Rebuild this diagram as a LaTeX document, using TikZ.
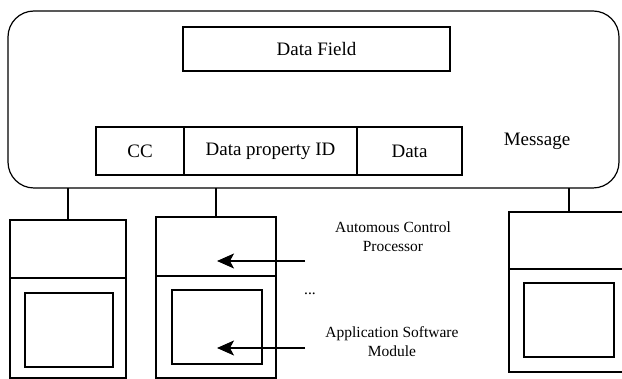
\documentclass[tikz,border=0pt]{standalone}
\usepackage{fontspec}
\setmainfont{Liberation Serif}
\usetikzlibrary{arrows.meta}
\begin{document}
\begin{tikzpicture}[x=1pt,y=-1pt,
  frame/.style={draw, line width=1.2pt, inner sep=0pt, outer sep=0pt},
  bigfont/.style={font=\fontsize{19}{22}\selectfont},
  smallfont/.style={font=\fontsize{15.5}{19}\selectfont, align=center},
  link/.style={line width=1.2pt},
  pointer/.style={line width=1.2pt, -{Stealth[length=17pt,width=15pt,inset=4pt]}}
]
\useasboundingbox (0,0) rectangle (622,379);

% message frame and its fields
\node[frame, rounded corners=26pt, minimum width=611pt, minimum height=177pt] (msg) at (313.5,99.5) {};
\node[frame, bigfont, minimum width=267pt, minimum height=44pt] (df) at (316.5,49) {Data Field};
\node[frame, bigfont, minimum width=88pt, minimum height=48pt] (cc) at (140,151) {CC};
\node[frame, bigfont, minimum width=173pt, minimum height=48pt] (dpid) at (270.5,151) {Data property ID};
\node[frame, bigfont, minimum width=105pt, minimum height=48pt] (data) at (409.5,151) {Data};
\node[bigfont] (msglabel) at (537,141) {Message};

% first node
\node[frame, minimum width=116pt, minimum height=58pt] (p1) at (68,249) {};
\node[frame, minimum width=116pt, minimum height=100pt] (m1) at (68,328) {};
\node[frame, minimum width=88pt, minimum height=74pt] (s1) at (69,330) {};

% second node
\node[frame, minimum width=120pt, minimum height=59pt] (p2) at (216,246.5) {};
\node[frame, minimum width=120pt, minimum height=102pt] (m2) at (216,327) {};
\node[frame, minimum width=90pt, minimum height=74pt] (s2) at (217,327) {};

% last node
\node[frame, minimum width=120pt, minimum height=57pt] (p3) at (569,240.5) {};
\node[frame, minimum width=120pt, minimum height=103pt] (m3) at (569,320.5) {};
\node[frame, minimum width=90pt, minimum height=74pt] (s3) at (569,320) {};

% bus connections
\draw[link] (msg.south -| p1.north) -- (p1.north);
\draw[link] (msg.south -| p2.north) -- (p2.north);
\draw[link] (msg.south -| p3.north) -- (p3.north);

% annotations
\node[smallfont] (acp) at (393,237) {Automous Control\\Processor};
\node[smallfont] (asm) at (392,342) {Application Software\\Module};
\node[smallfont] (dots) at (310,294) {...};

\coordinate (a1) at (305,261);
\coordinate (t1) at (217,261);
\coordinate (a2) at (305,348);
\coordinate (t2) at (217,348);
\draw[pointer] (a1) -- (t1);
\draw[pointer] (a2) -- (t2);
\end{tikzpicture}
\end{document}
